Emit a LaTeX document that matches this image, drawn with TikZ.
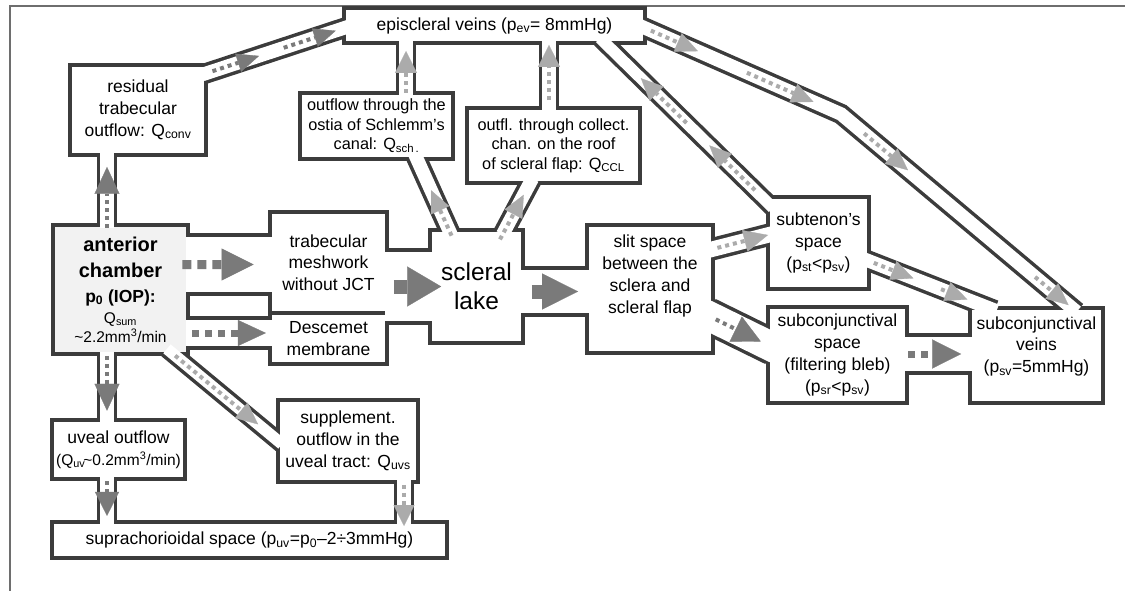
\documentclass[tikz,border=0pt]{standalone}
\usepackage{fontspec}
\setmainfont{Liberation Sans}
\usetikzlibrary{arrows.meta,calc}

\definecolor{wallgray}{HTML}{3C3C3C}
\definecolor{darkflow}{HTML}{7A7A7A}
\definecolor{lightflow}{HTML}{ABABAB}
\definecolor{chamberfill}{HTML}{F2F2F2}
\definecolor{framegray}{HTML}{6E6E6E}

\pgfdeclarelayer{walls}
\pgfdeclarelayer{cores}
\pgfdeclarelayer{flows}
\pgfsetlayers{walls,main,cores,flows}

\tikzset{
  box/.style={draw=wallgray, line width=3.5pt, fill=white, align=center,
    inner sep=0pt, outer sep=0pt, font=\fontsize{17.5}{21.7}\selectfont},
  smaller/.style={font=\fontsize{16.3}{19.5}\selectfont},
  pipewall/.style={draw=wallgray, line width=#1pt+3.5pt,
    shorten <=-6pt, shorten >=-6pt},
  pipecore/.style 2 args={draw=white, line width=#1pt-3.5pt,
    shorten <=-#2pt, shorten >=-#2pt},
  flow/.style={draw=#1, line width=4pt, dash pattern=on 4pt off 4pt},
  bigdots/.style={line width=#1pt, dash pattern=on #1pt off 6pt},
  stub/.style={solid, line width=14pt},
  tip/.style 2 args={-{Triangle[length=#1pt, width=#2pt, line width'=0.3pt]}}
}

% a pipe: distance of its walls, extra length of its white core, path
\newcommand\pipe[3]{%
  \begin{pgfonlayer}{walls}\draw[pipewall=#1] #3;\end{pgfonlayer}
  \begin{pgfonlayer}{cores}\draw[pipecore={#1}{#2}] #3;\end{pgfonlayer}}
\newcommand\acbig{\fontsize{20}{26}\selectfont\bfseries}
\newcommand\acsmall{\fontsize{15.5}{19}\selectfont}

\begin{document}
\begin{tikzpicture}[x=1pt, y=-1pt]
  \useasboundingbox (0,0) rectangle (1125,591);
  \draw[framegray, line width=2pt] (10,591) -- (10,6) -- (1125,6);

  % compartments
  \node[box, minimum width=301pt, minimum height=35pt] (ev) at (494.5,25.5)
    {episcleral veins (p\textsubscript{ev}= 8mmHg)};
  \node[box, minimum width=136pt, minimum height=90pt] (res) at (138,110)
    {residual\\trabecular\\outflow: Q\textsubscript{conv}};
  \node[box, smaller, minimum width=153pt, minimum height=66pt] (sch) at (376.5,126)
    {outflow through the\\ostia of Schlemm's\\canal: Q\textsubscript{sch\,.}};
  \node[box, smaller, minimum width=173pt, minimum height=75pt] (ccl) at (553.5,145.5)
    {outfl. through collect.\\chan. on the roof\\of scleral flap: Q\textsubscript{CCL}};
  \node[box, fill=chamberfill, minimum width=135pt, minimum height=129pt] (ac) at (120.5,289.5)
    {{\acbig anterior}\\[4.3pt]{\acbig chamber}\\[3.3pt]{\bfseries p\textsubscript{0} (IOP):}\\[-0.7pt]
     {\acsmall Q\textsubscript{sum}}\\[-2.7pt]{\acsmall\textasciitilde 2.2mm\textsuperscript{3}/min}};
  \node[box, minimum width=117pt, minimum height=101pt] (tm) at (328.5,262.5)
    {trabecular\\meshwork\\without JCT};
  \node[box, minimum width=117pt, minimum height=51pt] (dm) at (328.5,338.5)
    {Descemet\\membrane};
  \node[box, minimum width=93pt, minimum height=113pt,
    font=\fontsize{24.5}{29}\selectfont] (lake) at (476.5,286.5)
    {scleral\\lake};
  \node[box, minimum width=126pt, minimum height=128pt] (slit) at (650,289)
    {slit space\\between the\\sclera and\\scleral flap\\[8pt]\mbox{}};
  \node[box, minimum width=101pt, minimum height=92pt] (st) at (818.5,243)
    {subtenon's\\space\\(p\textsubscript{st}<p\textsubscript{sv})};
  \node[box, minimum width=139pt, minimum height=96pt] (scs) at (837.5,355)
    {subconjunctival\\space\\(filtering bleb)\\(p\textsubscript{sr}<p\textsubscript{sv})};
  \node[box, minimum width=133pt, minimum height=95pt] (sv) at (1036.5,355.5)
    {subconjunctival\\veins\\(p\textsubscript{sv}=5mmHg)\\\mbox{}};
  \node[box, minimum width=133pt, minimum height=59pt] (uv) at (118.5,449.5)
    {uveal outflow\\{\acsmall(Q\textsubscript{uv}\kern-2pt\textasciitilde 0.2mm\textsuperscript{3}/min)}};
  \node[box, minimum width=140pt, minimum height=82pt] (sup) at (348,441)
    {supplement.\\outflow in the\\uveal tract: Q\textsubscript{uvs}};
  \node[box, minimum width=395pt, minimum height=36pt] (supra) at (249.5,540)
    {suprachorioidal space (p\textsubscript{uv}=p\textsubscript{0}–2÷3mmHg)};

  % openings of the pipes
  \coordinate (acN) at ($(ac.north)+(-13.5,0)$);
  \coordinate (resS) at ($(res.south)+(-31,0)$);
  \coordinate (resNE) at ($(res.north east)+(1,8)$);
  \coordinate (evW) at ($(ev.west)+(0,2.5)$);
  \coordinate (schN) at ($(sch.north)+(29.5,0)$);
  \coordinate (evS1) at ($(ev.south)+(-88.5,0)$);
  \coordinate (cclN) at ($(ccl.north)+(-4.5,0)$);
  \coordinate (evS2) at ($(ev.south)+(54.5,0)$);
  \coordinate (lakeN1) at ($(lake.north)+(-27.5,0)$);
  \coordinate (schS) at ($(sch.south)+(40.5,0)$);
  \coordinate (lakeN2) at ($(lake.north)+(28.5,0)$);
  \coordinate (cclS) at ($(ccl.south)+(-23.5,0)$);
  \coordinate (evS3) at ($(ev.south)+(110.5,0)$);
  \coordinate (stW1) at ($(st.west)+(0,-40)$);
  \coordinate (evE) at ($(ev.east)+(0,2.5)$);
  \coordinate (evbend) at (841,114);
  \coordinate (svN1) at ($(sv.north)+(35.5,0)$);
  \coordinate (stE) at ($(st.east)+(0,18)$);
  \coordinate (svN2) at ($(sv.north west)+(19,0)$);
  \coordinate (slitE1) at ($(slit.east)+(0,-40)$);
  \coordinate (stW2) at ($(st.west)+(0,-8)$);
  \coordinate (slitE2) at ($(slit.east)+(0,29)$);
  \coordinate (scsW) at ($(scs.west)+(0,-10)$);
  \coordinate (scsE) at ($(scs.east)+(0,-1)$);
  \coordinate (svW) at ($(sv.west)+(0,-1.5)$);
  \coordinate (acE1) at ($(ac.east)+(0,-25)$);
  \coordinate (tmW) at ($(tm.west)+(0,2)$);
  \coordinate (acE2) at ($(ac.east)+(0,43.5)$);
  \coordinate (dmW) at ($(dm.west)+(0,-5.5)$);
  \coordinate (tmE) at ($(tm.east)+(0,24)$);
  \coordinate (lakeE) at ($(lake.east)+(0,5)$);
  \coordinate (slitW) at ($(slit.west)+(0,2.5)$);
  \coordinate (acS) at ($(ac.south)+(-13.5,0)$);
  \coordinate (uvN) at ($(uv.north)+(-11.5,0)$);
  \coordinate (uvS) at ($(uv.south)+(-11.5,0)$);
  \coordinate (supraN1) at ($(supra.north)+(-142.5,0)$);
  \coordinate (supS) at ($(sup.south)+(56,0)$);
  \coordinate (supraN2) at ($(supra.north)+(154.5,0)$);
  \coordinate (acSE) at ($(ac.south east)+(-16,-1)$);
  \coordinate (supW) at ($(sup.west)+(-1,-1)$);

  % pipes
  \pipe{17}{2.5}{(acN) -- (resS)}
  \pipe{17}{5}{(resNE) -- (evW)}
  \pipe{17}{2.5}{(schN) -- (evS1)}
  \pipe{17}{2.5}{(cclN) -- (evS2)}
  \pipe{17}{5}{(lakeN1) -- (schS)}
  \pipe{17}{5}{(lakeN2) -- (cclS)}
  \pipe{15}{7}{(evS3) -- (stW1)}
  \pipe{17}{6}{(evE) -- (evbend) -- (svN1)}
  \pipe{17}{8}{(stE) -- (svN2)}
  \pipe{19}{4}{(slitE1) -- (stW2)}
  \pipe{33}{9}{(slitE2) -- (scsW)}
  \pipe{38}{2.5}{(scsE) -- (svW)}
  \pipe{59}{2.5}{(acE1) -- (tmW)}
  \pipe{30}{2.5}{(acE2) -- (dmW)}
  \pipe{73}{2.5}{(tmE) -- (lake.west)}
  \pipe{47}{2.5}{(lakeE) -- (slitW)}
  \pipe{17}{2.5}{(acS) -- (uvN)}
  \pipe{17}{2.5}{(uvS) -- (supraN1)}
  \pipe{17}{2.5}{(supS) -- (supraN2)}
  \pipe{15}{6.5}{(acSE) -- (supW)}

  % flow arrows
  \begin{pgfonlayer}{flows}
    \draw[flow=darkflow, tip={27}{25}] ($(acN)!-0.04!(resS)$) -- ($(acN)!0.83!(resS)$);
    \draw[flow=darkflow, tip={22}{19}] ($(resNE)!0.04!(evW)$) -- ($(resNE)!0.38!(evW)$);
    \draw[flow=darkflow, tip={22}{19}] ($(resNE)!0.56!(evW)$) -- ($(resNE)!0.94!(evW)$);
    \draw[flow=lightflow, tip={22}{22}] (schN) -- ($(schN)!0.84!(evS1)$);
    \draw[flow=lightflow, tip={22}{22}] ($(cclN)!0.12!(evS2)$) -- ($(cclN)!0.97!(evS2)$);
    \draw[flow=lightflow, tip={22}{20}] ($(lakeN1)!-0.08!(schS)$) -- ($(lakeN1)!0.56!(schS)$);
    \draw[flow=lightflow, tip={22}{20}] ($(lakeN2)!-0.2!(cclS)$) -- ($(lakeN2)!0.75!(cclS)$);
    \draw[flow=lightflow, tip={22}{20}] ($(stW1)!0.08!(evS3)$) -- ($(stW1)!0.36!(evS3)$);
    \draw[flow=lightflow, tip={22}{20}] ($(stW1)!0.5!(evS3)$) -- ($(stW1)!0.78!(evS3)$);
    \draw[flow=lightflow, tip={22}{20}] ($(evE)!0.03!(evbend)$) -- ($(evE)!0.27!(evbend)$);
    \draw[flow=lightflow, tip={22}{20}] ($(evE)!0.52!(evbend)$) -- ($(evE)!0.86!(evbend)$);
    \draw[flow=lightflow, tip={22}{20}] ($(evbend)!0.1!(svN1)$) -- ($(evbend)!0.29!(svN1)$);
    \draw[flow=lightflow, tip={22}{20}] ($(evbend)!0.84!(svN1)$) -- ($(evbend)!0.985!(svN1)$);
    \draw[flow=lightflow, tip={22}{20}] ($(stE)!0.04!(svN2)$) -- ($(stE)!0.37!(svN2)$);
    \draw[flow=lightflow, tip={22}{20}] ($(stE)!0.6!(svN2)$) -- ($(stE)!0.82!(svN2)$);
    \draw[flow=lightflow, tip={24}{22}] ($(slitE1)!0.08!(stW2)$) -- (stW2);
    \draw[flow=darkflow, tip={28}{28}] ($(slitE2)!0.05!(scsW)$) -- ($(slitE2)!0.87!(scsW)$);
    \draw[flow=darkflow, bigdots=7, tip={29}{29}] ($(scsE)!0.02!(svW)$) -- ($(scsE)!0.86!(svW)$);
    \draw[flow=darkflow, bigdots=9, tip={32}{32}] ($(acE1)!-0.07!(tmW)$) -- ($(acE1)!0.8!(tmW)$);
    \draw[flow=darkflow, bigdots=7, tip={28}{26}] ($(acE2)!0.05!(dmW)$) -- ($(acE2)!0.95!(dmW)$);
    \draw[flow=darkflow, stub, tip={34}{40}] ($(tmE)!0.16!(lake.west)$) -- ($(tmE)!1.26!(lake.west)$);
    \draw[flow=darkflow, stub, tip={36}{36}] ($(lakeE)!0.14!(slitW)$) -- ($(lakeE)!0.86!(slitW)$);
    \draw[flow=darkflow, tip={27}{25}] ($(acS)!0.03!(uvN)$) -- ($(acS)!0.86!(uvN)$);
    \draw[flow=darkflow, tip={24}{24}] ($(uvS)!0.05!(supraN1)$) -- ($(uvS)!0.86!(supraN1)$);
    \draw[flow=lightflow, tip={21}{21}] ($(supS)!0.07!(supraN2)$) -- ($(supS)!1.1!(supraN2)$);
    \draw[flow=lightflow, tip={22}{20}] ($(acSE)!0.03!(supW)$) -- ($(acSE)!0.82!(supW)$);
  \end{pgfonlayer}
\end{tikzpicture}
\end{document}
